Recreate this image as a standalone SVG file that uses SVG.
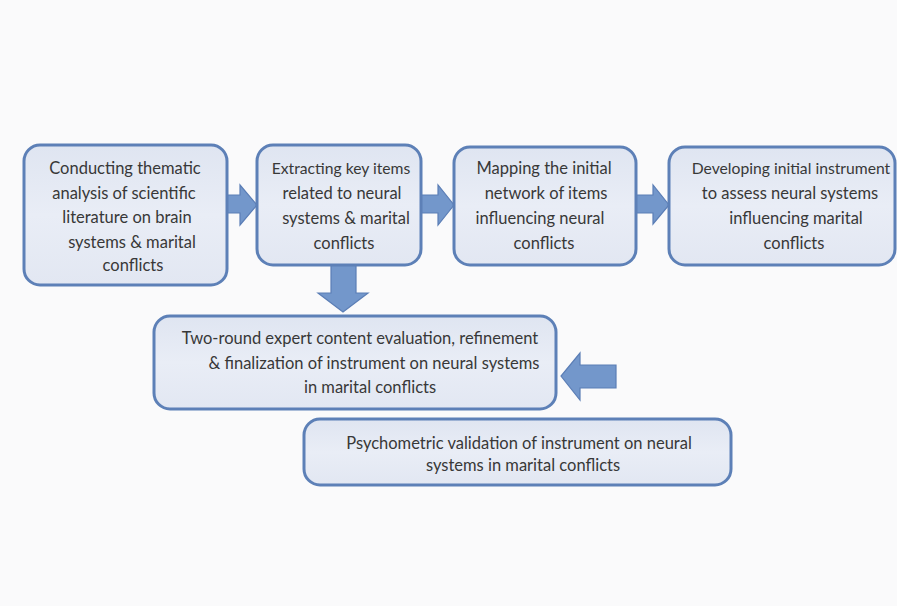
<svg xmlns="http://www.w3.org/2000/svg" width="897" height="606" viewBox="0 0 897 606">
<defs>
<linearGradient id="bf" x1="0" y1="0" x2="0" y2="1">
<stop offset="0" stop-color="#dfe5f1"/>
<stop offset="0.5" stop-color="#e9edf6"/>
<stop offset="1" stop-color="#e2e7f2"/>
</linearGradient>
<style>
.box{fill:url(#bf);stroke:#5d80b7;stroke-width:3}
.arr{fill:#7397cb;stroke:#5b7eb6;stroke-width:1.2}
text{font-family:Lato,"Open Sans","Liberation Sans",sans-serif;font-size:16.5px;fill:#383838;text-anchor:middle}
.sm{font-size:15.7px}
</style>
</defs>
<rect width="897" height="606" fill="#fafafb"/>
<g id="connectors">
<polygon class="arr" points="227,195 240,195 240,185 257,205 240,225 240,213 227,213"/>
<polygon class="arr" points="421,195 438,195 438,185 454,205 438,225 438,213 421,213"/>
<polygon class="arr" points="636,195 653,195 653,185 669,205 653,224 653,213 636,213"/>
<polygon class="arr" points="331,265 356,265 356,293 368,293 343,312 318,293 331,293"/>
<polygon class="arr" points="616,365 580,365 580,353 561,376 580,400 580,388 616,388"/>
</g>
<g id="n1">
<rect class="box" x="24" y="145" width="203" height="140" rx="16"/>
<text x="125" y="174">Conducting thematic</text>
<text x="124" y="199">analysis of scientific</text>
<text x="127" y="223">literature on brain</text>
<text x="132" y="248">systems &amp; marital</text>
<text x="133" y="271">conflicts</text>
</g>
<g id="n2">
<rect class="box" x="257" y="145" width="164" height="120" rx="16"/>
<text class="sm" x="341" y="174">Extracting key items</text>
<text x="342" y="199">related to neural</text>
<text x="346" y="224">systems &amp; marital</text>
<text x="344" y="249">conflicts</text>
</g>
<g id="n3">
<rect class="box" x="454" y="147" width="182" height="118" rx="16"/>
<text x="544" y="174">Mapping the initial</text>
<text x="546" y="199">network of items</text>
<text x="540" y="224">influencing neural</text>
<text x="544" y="249">conflicts</text>
</g>
<g id="n4">
<rect class="box" x="669" y="147" width="226" height="118" rx="16"/>
<text class="sm" x="791" y="174">Developing initial instrument</text>
<text x="790" y="199">to assess neural systems</text>
<text x="796" y="224">influencing marital</text>
<text x="794" y="249">conflicts</text>
</g>
<g id="n5">
<rect class="box" x="154" y="316" width="402" height="93" rx="16"/>
<text x="360" y="344">Two-round expert content evaluation, refinement</text>
<text x="374" y="369">&amp; finalization of instrument on neural systems</text>
<text x="370" y="393">in marital conflicts</text>
</g>
<g id="n6">
<rect class="box" x="304" y="419" width="427" height="66" rx="16"/>
<text x="519" y="449">Psychometric validation of instrument on neural</text>
<text x="523" y="471">systems in marital conflicts</text>
</g>
</svg>
